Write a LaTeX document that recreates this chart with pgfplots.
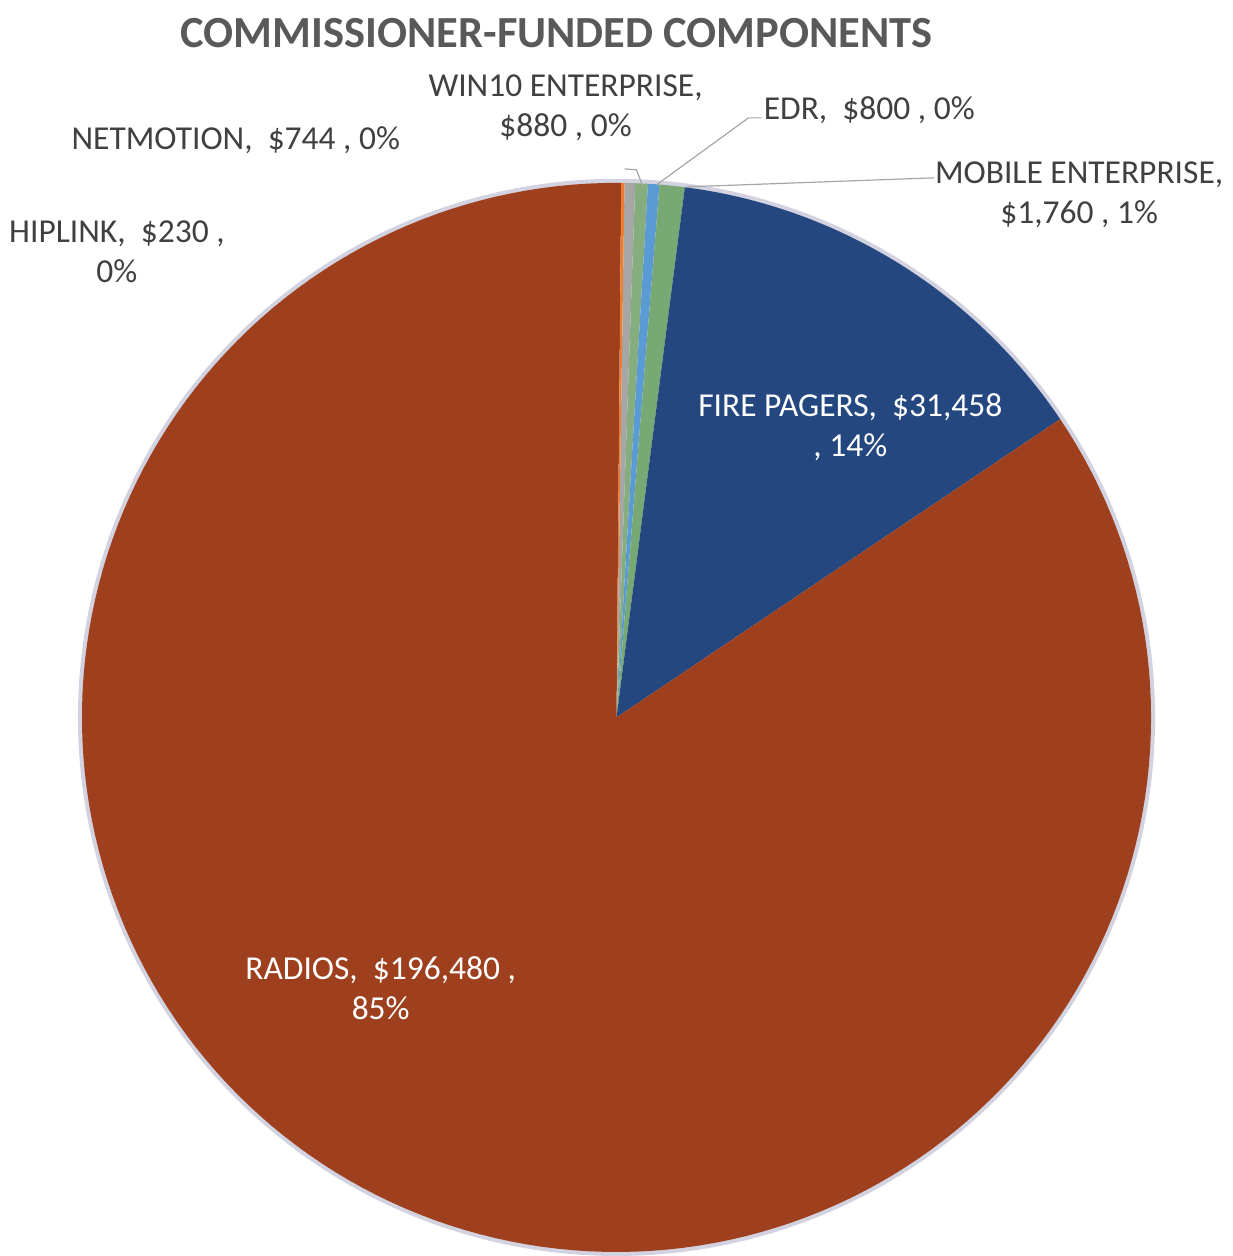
\documentclass[border=0pt]{standalone}
\usepackage{pgfplots}
\pgfplotsset{compat=1.18}
\usepackage{pgfplotstable}
\usepackage{fontspec}
\setmainfont{Carlito}

\definecolor{cNet}{HTML}{A6A6A6}
\definecolor{cWin}{HTML}{86AD7E}
\definecolor{cEdr}{HTML}{5B9BD5}
\definecolor{cMob}{HTML}{78A873}
\definecolor{cFire}{HTML}{24477F}
\definecolor{cRad}{HTML}{9E401D}
\definecolor{cHip}{HTML}{ED7D31}
\definecolor{lbl}{HTML}{404040}
\definecolor{ttl}{HTML}{595959}
\definecolor{halo}{HTML}{D2D2E0}

% clockwise from the top of the pie
\pgfplotstableread[col sep=comma]{
name,value,color
NETMOTION,744,cNet
WIN10 ENTERPRISE,880,cWin
EDR,800,cEdr
MOBILE ENTERPRISE,1760,cMob
FIRE PAGERS,31458,cFire
RADIOS,196480,cRad
HIPLINK,230,cHip
}\piedata

\begin{document}
\begin{tikzpicture}
% sum with \fpeval (values are too large for pgfmath)
\def\total{0}
\pgfplotsforeachungrouped \i in {0,...,6}{%
  \pgfplotstablegetelem{\i}{value}\of\piedata
  \edef\total{\fpeval{\total+\pgfplotsretval}}%
}
\begin{axis}[x=1pt, y=1pt, xmin=0, xmax=1233, ymin=0, ymax=1256,
  scale only axis, hide axis, clip=false]
\path (axis cs:0,0) rectangle (axis cs:1233,1256);
% soft edge round the pie
\addplot[draw=halo, line width=6pt, domain=0:360, samples=361]
  ({617+536*cos(x)},{538+536*sin(x)});
\def\angstart{89.14}
\pgfplotsforeachungrouped \i in {0,...,6}{%
  \pgfplotstablegetelem{\i}{value}\of\piedata
  \edef\angend{\fpeval{round(\angstart-\pgfplotsretval/\total*360,4)}}%
  \pgfplotstablegetelem{\i}{color}\of\piedata
  \edef\doplot{\noexpand\addplot[fill=\pgfplotsretval, draw=none,
    domain=\angend:\angstart, samples=181]
    ({617+535*cos(x)},{538+535*sin(x)}) -- (axis cs:617,538) -- cycle;}%
  \doplot
  \let\angstart\angend
}

% leader lines
\draw[gray!70, line width=1.2pt] (axis cs:625,1087) -- (axis cs:637,1086) -- (axis cs:643,1070);
\draw[gray!70, line width=1.2pt] (axis cs:762,1138) -- (axis cs:749,1138) -- (axis cs:657,1071);
\draw[gray!70, line width=1.2pt] (axis cs:935,1078) -- (axis cs:688,1069);

% title and labels
\node[font=\fontsize{44.5}{50}\selectfont\bfseries, text=ttl] at (axis cs:557,1223)
  {COMMISSIONER-FUNDED COMPONENTS};
\begin{scope}[every node/.style={font=\fontsize{33.5}{40}\selectfont, text=lbl, align=center, inner sep=0pt}]
\node at (axis cs:566,1148) {WIN10 ENTERPRISE,\\\$880 , 0\%};
\node at (axis cs:870,1146) {EDR,\ \ \$800 , 0\%};
\node at (axis cs:1080,1061) {MOBILE ENTERPRISE,\\\$1,760 , 1\%};
\node at (axis cs:236,1116) {NETMOTION,\ \ \$744 , 0\%};
\node at (axis cs:117,1004) {HIPLINK,\ \ \$230 ,\\0\%};
\node[text=white] at (axis cs:851,828) {FIRE PAGERS,\ \ \$31,458\\, 14\%};
\node[text=white] at (axis cs:381,267) {RADIOS,\ \ \$196,480 ,\\85\%};
\end{scope}
\end{axis}
\end{tikzpicture}
\end{document}
